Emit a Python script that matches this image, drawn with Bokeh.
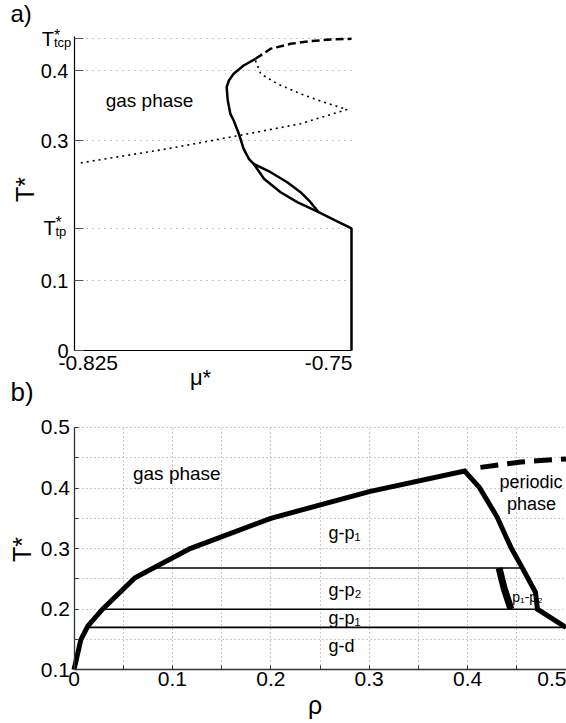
import math
from bokeh.plotting import figure
from bokeh.models import Label, FixedTicker, Range1d, LinearAxis, Grid
from bokeh.embed import file_html
from bokeh.resources import INLINE

FONT = "Liberation Sans"

# ---------------- panel a) data ----------------
T_tp = 0.1743
T_tcp = 0.4453
a_yticks = [0, 0.1, 0.3, 0.4]
a_special = [T_tp, T_tcp]
mu_tick_values = [-0.825, -0.75]
mu_tick_labels = ["-0.825", "-0.75"]

a_solid_mu = [-0.75, -0.75, -0.7543, -0.7589, -0.7647, -0.7692, -0.7737, -0.7765,
              -0.7778, -0.7792, -0.7805, -0.7819, -0.7828, -0.7835, -0.7838,
              -0.7832, -0.7819, -0.7792, -0.7760]
a_solid_T = [0, 0.1743, 0.1857, 0.1976, 0.2119, 0.2261, 0.2453, 0.2667,
             0.2739, 0.2881, 0.3096, 0.3286, 0.3381, 0.3571, 0.3761,
             0.3857, 0.3953, 0.4071, 0.4167]
a_lens_mu = [-0.7765, -0.7719, -0.7674, -0.7638, -0.7611, -0.7589]
a_lens_T = [0.2667, 0.2547, 0.2404, 0.2261, 0.2119, 0.1976]
a_dash_mu = [-0.7760, -0.7719, -0.7665, -0.7611, -0.7557, -0.75]
a_dash_T = [0.4167, 0.4310, 0.4381, 0.4419, 0.4443, 0.4453]
a_dot_mu = [-0.7760, -0.7746, -0.7701, -0.7638, -0.7575, -0.7512,
            -0.7638, -0.7805, -0.7999, -0.8238]
a_dot_T = [0.4143, 0.3953, 0.3810, 0.3667, 0.3547, 0.3443,
           0.3239, 0.3071, 0.2881, 0.2676]

# ---------------- panel b) data ----------------
b_xticks = [0, 0.1, 0.2, 0.3, 0.4, 0.5]
b_xminor = [0.05, 0.15, 0.25, 0.35, 0.45]
b_yticks = [0.1, 0.2, 0.3, 0.4, 0.5]
b_yminor = [0.15, 0.25, 0.35, 0.45]

rho_main = [0, 0.007, 0.014, 0.029, 0.062, 0.118, 0.2, 0.3, 0.397,
            0.412, 0.43, 0.444, 0.456, 0.469, 0.471, 0.5]
T_main = [0.1, 0.15, 0.172, 0.2, 0.252, 0.3, 0.35, 0.394, 0.428,
          0.401, 0.352, 0.302, 0.267, 0.228, 0.2, 0.17]
rho_dash = [0.413, 0.454, 0.5]
T_dash = [0.434, 0.443, 0.448]
rho_p12 = [0.432, 0.437, 0.444]
T_p12 = [0.268, 0.235, 0.2]
tie_T = [0.268, 0.2, 0.17]
tie_rho_left = [0.082, 0.029, 0.014]
tie_rho_right = [0.456, 0.471, 0.5]

region_text = ["gas phase", "periodic", "phase", "g-p\u2081", "g-p\u2082",
               "g-p\u2081", "g-d", "p\u2081-p\u2082"]

# ---------------- layout: one canvas, two coordinate systems ----------------
W, H = 566, 722
KX_A = 0.075 / 277.0           # mu per pixel, panel a
XA0 = -0.825 - 74 * KX_A


def ax(px):
    return XA0 + px * KX_A


def ay(py):
    return (350.0 - py) / 700.0


def bx(px):
    return (px - 73.5) / 984.0


def by(py):
    return 0.1 + (669.3 - py) / 606.0


p = figure(width=W, height=H, output_backend="svg", toolbar_location=None,
           x_range=Range1d(ax(0), ax(W)), y_range=Range1d(ay(H), ay(0)),
           x_axis_type=None, y_axis_type=None, min_border=0)
p.extra_x_ranges = {"b": Range1d(bx(0), bx(W))}
p.extra_y_ranges = {"b": Range1d(by(H), by(0))}
p.outline_line_color = None
p.background_fill_color = "white"
p.border_fill_color = "white"

# ---------------- panel a axes & grid ----------------
a_ticker = FixedTicker(ticks=a_yticks, minor_ticks=a_special)
ya_axis = LinearAxis(ticker=a_ticker, fixed_location=-0.825, bounds=(0, 0.449),
                     major_label_overrides={0: "0"})
ya_axis.major_label_text_font = FONT
ya_axis.major_label_text_font_size = "20px"
ya_axis.major_label_text_color = "black"
ya_axis.major_label_standoff = 6
ya_axis.axis_line_color = "black"
ya_axis.axis_line_width = 1.2
ya_axis.major_tick_in = 9
ya_axis.major_tick_out = 0
ya_axis.minor_tick_in = 9
ya_axis.minor_tick_out = 0
ya_axis.major_tick_line_color = "#555555"
ya_axis.minor_tick_line_color = "#555555"
p.add_layout(ya_axis, "left")

xa_axis = LinearAxis(ticker=FixedTicker(ticks=[]), fixed_location=0,
                     bounds=(mu_tick_values[0], mu_tick_values[1]))
xa_axis.axis_line_color = "black"
xa_axis.axis_line_width = 1.2
xa_axis.major_tick_in = 0
xa_axis.major_tick_out = 0
xa_axis.minor_tick_in = 0
xa_axis.minor_tick_out = 0
p.add_layout(xa_axis, "below")

p.add_layout(Grid(dimension=1, ticker=a_ticker, cross_bounds=(-0.825, -0.75),
                  grid_line_color="#888888", grid_line_dash="1 5",
                  minor_grid_line_color="#888888", minor_grid_line_dash="1 5"))

# ---------------- panel a curves ----------------
p.line(a_dot_mu, a_dot_T, line_color="black", line_width=1.6, line_dash="2 4")
p.line(a_solid_mu, a_solid_T, line_color="black", line_width=2.5)
p.line(a_lens_mu, a_lens_T, line_color="black", line_width=2.5)
p.line(a_dash_mu, a_dash_T, line_color="black", line_width=2.5, line_dash="8 4")


def lab(x, y, text, size, align="left", baseline="middle", angle=0.0, rn="default"):
    p.add_layout(Label(x=x, y=y, x_range_name=rn, y_range_name=rn, text=text,
                       text_font=FONT, text_font_size=f"{size}px",
                       text_align=align, text_baseline=baseline, angle=angle,
                       text_color="black"))


lab(ax(10), ay(13), "a)", 24, "left", "middle")
lab(ax(149), ay(100), "gas phase", 19, "center", "middle")
lab(ax(58), ay(362.5), mu_tick_labels[0], 21, "left", "middle")
lab(ax(352), ay(362.5), mu_tick_labels[1], 21, "right", "middle")
lab(ax(200), ay(377), "\u03bc*", 22, "center", "middle")
lab(ax(24), ay(189), "T*", 25, "center", "middle", math.pi / 2)
lab(ax(53.5), T_tcp, "T", 20, "right", "middle")
lab(ax(53.5), ay(26.3), "*", 16, "left", "top")
lab(ax(53.5), ay(42), "tcp", 13, "left", "middle")
lab(ax(55.3), T_tp, "T", 20, "right", "middle")
lab(ax(55), ay(213.7), "*", 16, "left", "top")
lab(ax(55), ay(230.5), "tp", 13, "left", "middle")

# ---------------- panel b axes & grid ----------------
bx_ticker = FixedTicker(ticks=b_xticks, minor_ticks=b_xminor)
by_ticker = FixedTicker(ticks=b_yticks, minor_ticks=b_yminor)
xb_axis = LinearAxis(ticker=bx_ticker, x_range_name="b", y_range_name="b",
                     fixed_location=0.1, bounds=(0, 0.5),
                     major_label_overrides={0: "0"})
yb_axis = LinearAxis(ticker=by_ticker, x_range_name="b", y_range_name="b",
                     fixed_location=0, bounds=(0.1, 0.5))
for a in (xb_axis, yb_axis):
    a.major_label_text_font = FONT
    a.major_label_text_font_size = "21px"
    a.major_label_text_color = "black"
    a.axis_line_color = "#333333"
    a.axis_line_width = 1.3
    a.major_tick_in = 4
    a.major_tick_out = 0
    a.minor_tick_in = 4
    a.minor_tick_out = 0
    a.major_tick_line_color = "#333333"
    a.minor_tick_line_color = "#333333"
xb_axis.major_label_standoff = 2
yb_axis.major_label_standoff = 4
p.add_layout(xb_axis, "below")
p.add_layout(yb_axis, "left")

for dim, tk, cb in ((0, bx_ticker, (0.1, 0.5)), (1, by_ticker, (0, 0.5))):
    p.add_layout(Grid(dimension=dim, ticker=tk, x_range_name="b", y_range_name="b",
                      cross_bounds=cb,
                      grid_line_color="#999999", grid_line_dash="1 3",
                      minor_grid_line_color="#999999", minor_grid_line_dash="1 3"))

# ---------------- panel b curves ----------------
p.segment(x0=tie_rho_left, y0=tie_T, x1=tie_rho_right, y1=tie_T,
          line_color="black", line_width=1.6, x_range_name="b", y_range_name="b")
p.line(rho_main, T_main, line_color="black", line_width=5, line_join="miter",
       x_range_name="b", y_range_name="b")
p.line(rho_dash, T_dash, line_color="black", line_width=5, line_dash="18 9",
       x_range_name="b", y_range_name="b")
p.line(rho_p12, T_p12, line_color="black", line_width=7,
       x_range_name="b", y_range_name="b")

lab(bx(10), by(391), "b)", 26, "left", "middle", rn="b")
lab(0.1045, 0.424, region_text[0], 19, "center", "middle", rn="b")
lab(0.4644, 0.41, region_text[1], 18, "center", "middle", rn="b")
lab(0.465, 0.3736, region_text[2], 18, "center", "middle", rn="b")
lab(0.2587, 0.325, region_text[3], 18, "left", "middle", rn="b")
lab(0.2587, 0.231, region_text[4], 18, "left", "middle", rn="b")
lab(0.2587, 0.186, region_text[5], 18, "left", "middle", rn="b")
lab(0.2587, 0.14, region_text[6], 18, "left", "middle", rn="b")
lab(0.4453, 0.2198, region_text[7], 14, "left", "middle", rn="b")
lab(bx(21), by(549), "T*", 25, "center", "middle", math.pi / 2, rn="b")
lab(0.245, by(704), "\u03c1", 25, "center", "middle", rn="b")

open("out.html", "w").write(file_html(p, INLINE))
